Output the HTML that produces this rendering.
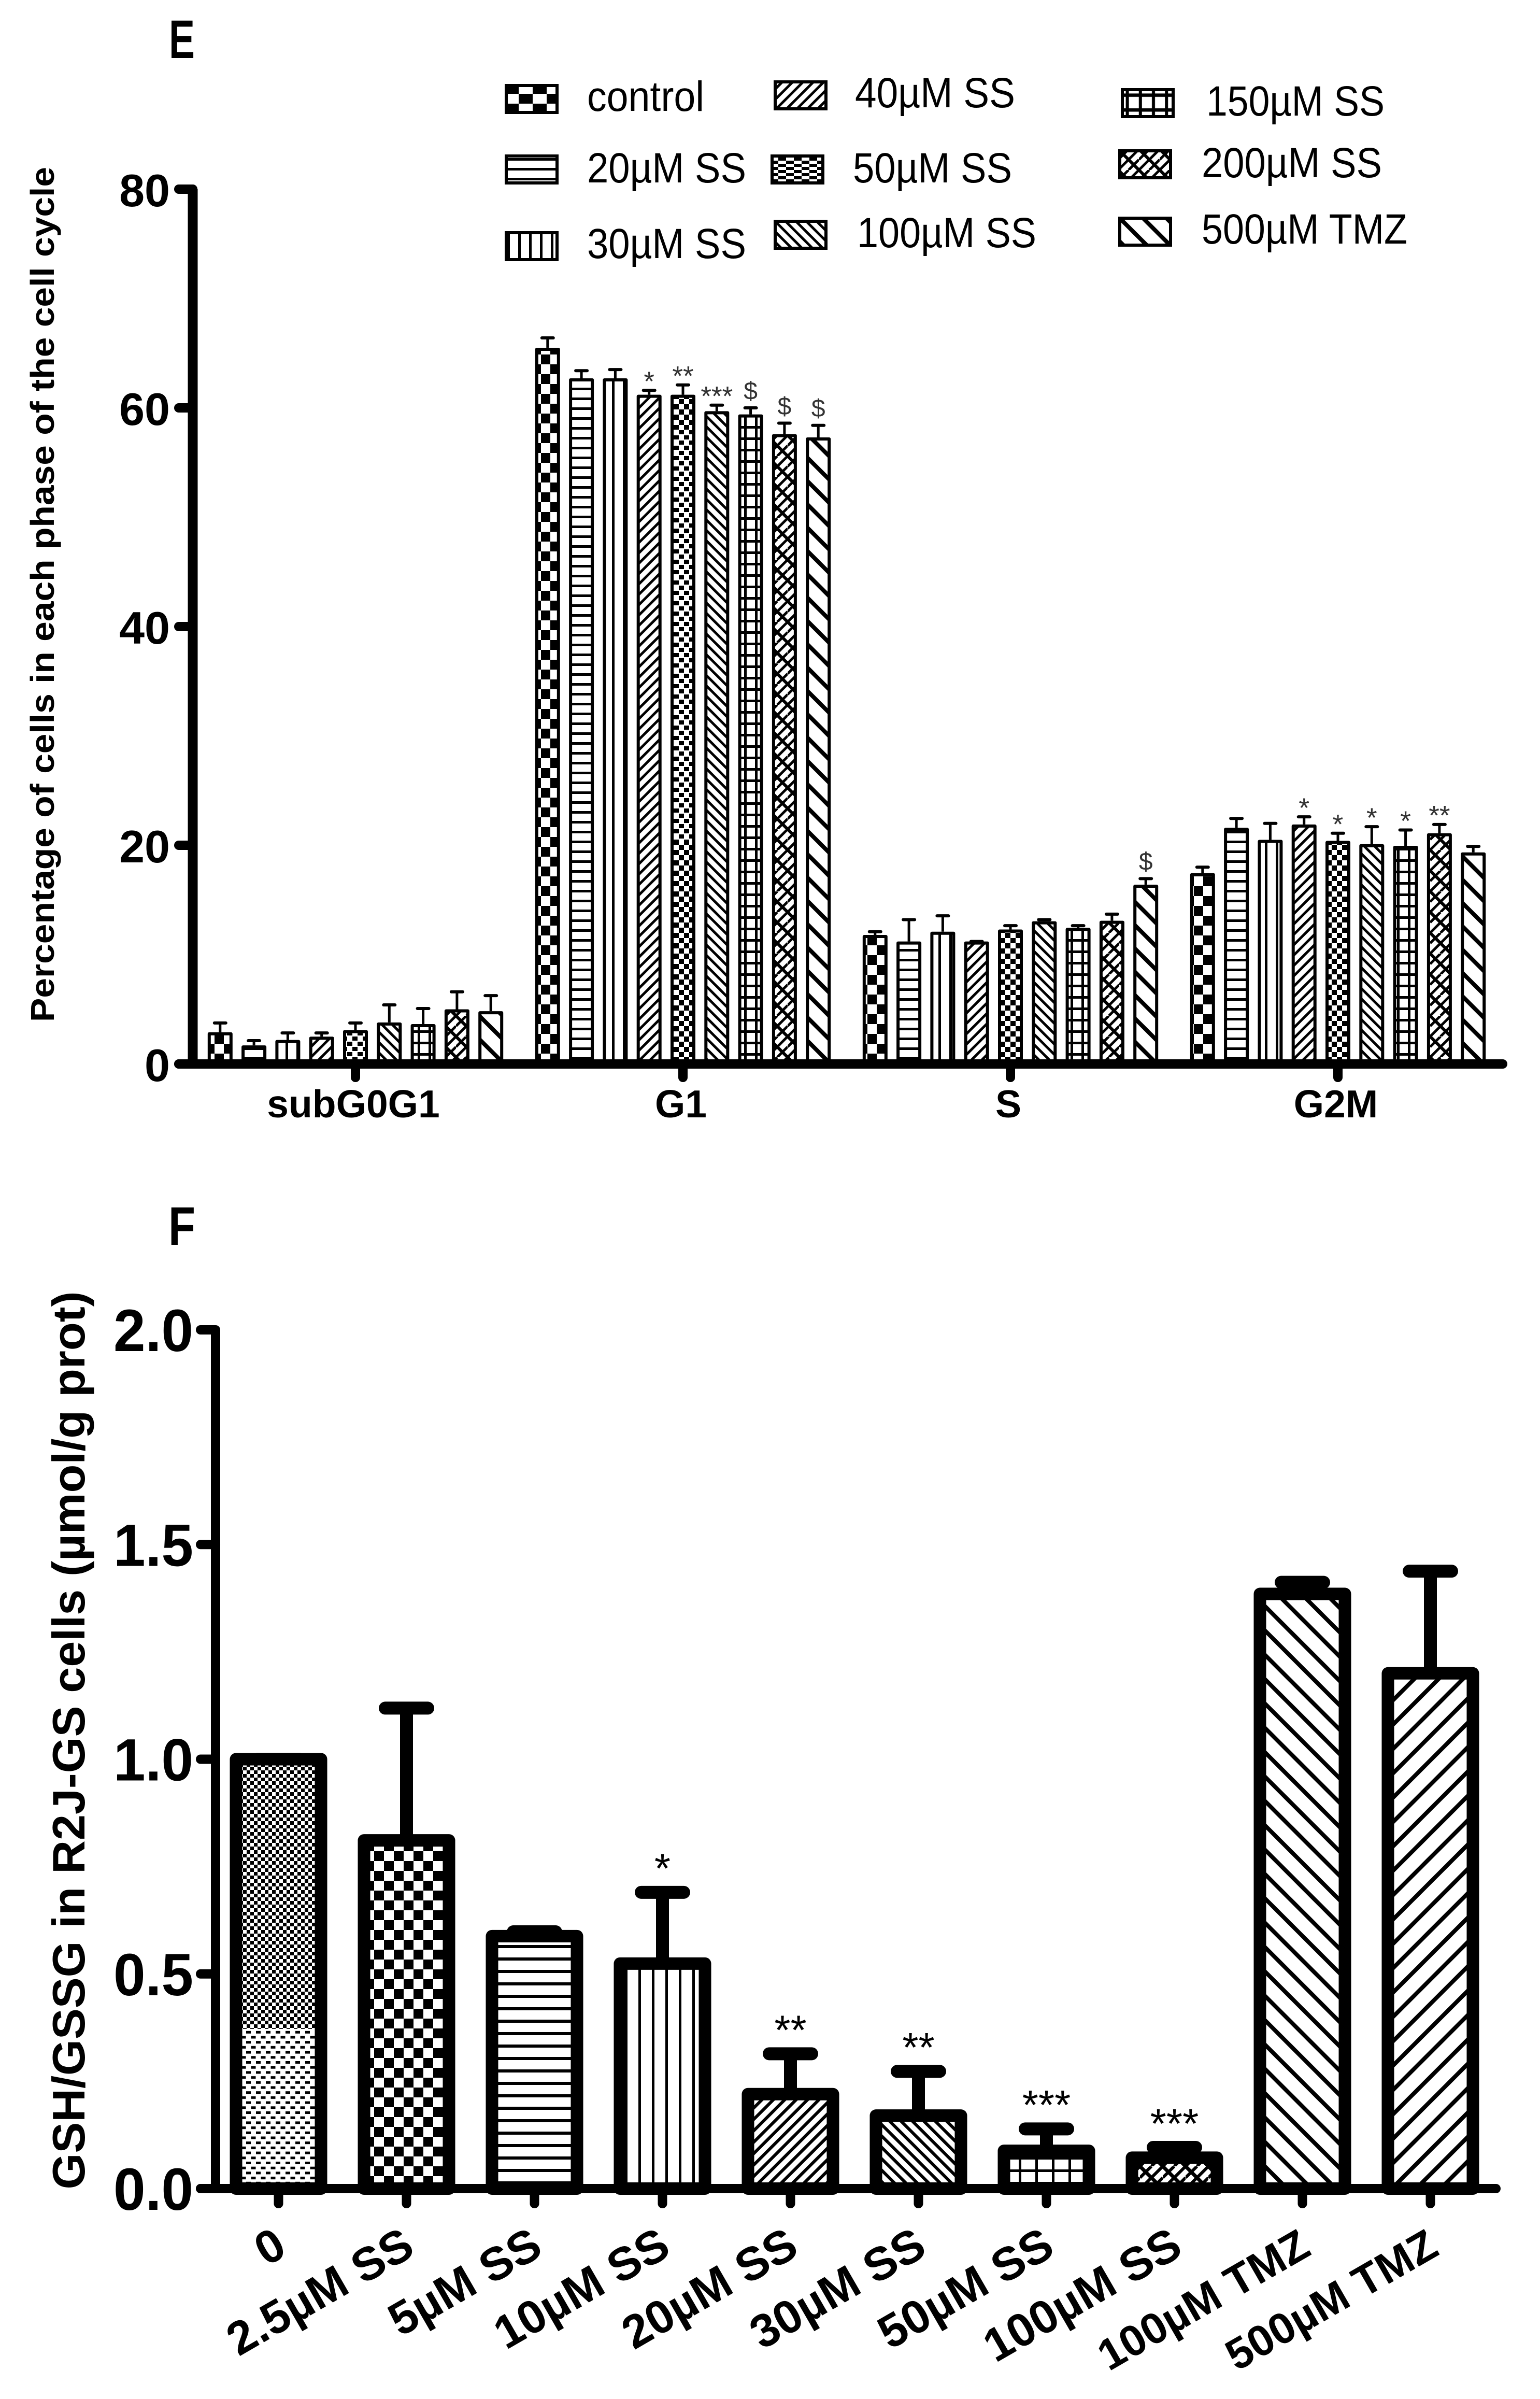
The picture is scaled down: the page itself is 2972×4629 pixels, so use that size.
<!DOCTYPE html>
<html lang="en">
<head>
<meta charset="utf-8">
<title>Cell cycle distribution and GSH/GSSG ratio</title>
<style>
html,body{margin:0;padding:0;background:#fff;width:2972px;height:4629px;overflow:hidden}
svg{display:block}
text{font-family:"Liberation Sans",Arial,sans-serif;fill:#000}
.b{font-weight:bold}
</style>
</head>
<body>
<svg id="root" xmlns="http://www.w3.org/2000/svg" width="2972" height="4629" viewBox="0 0 2972 4629">
<defs>
  <pattern id="e-check" patternUnits="userSpaceOnUse" width="36" height="38"><rect x="0" y="0" width="18" height="19"/><rect x="18" y="19" width="18" height="19"/></pattern>
  <pattern id="e-horiz" patternUnits="userSpaceOnUse" width="19" height="19"><rect y="7" width="19" height="5"/></pattern>
  <pattern id="e-vert" patternUnits="userSpaceOnUse" width="21" height="21" x="5"><rect x="0" width="5" height="21"/></pattern>
  <pattern id="e-fwd" patternUnits="userSpaceOnUse" width="20" height="20"><path d="M-2,2 L2,-2 M0,20 L20,0 M18,22 L22,18" stroke="#000" stroke-width="5"/></pattern>
  <pattern id="e-small" patternUnits="userSpaceOnUse" width="20" height="20"><rect width="10" height="10"/><rect x="10" y="10" width="10" height="10"/></pattern>
  <pattern id="e-dots" patternUnits="userSpaceOnUse" width="20" height="20"><rect width="10" height="8"/><rect x="10" y="10" width="10" height="8"/></pattern>
  <pattern id="e-back" patternUnits="userSpaceOnUse" width="20" height="20"><path d="M-2,-2 L22,22 M-2,18 L2,22 M18,-2 L22,2" stroke="#000" stroke-width="5"/></pattern>
  <pattern id="e-grid" patternUnits="userSpaceOnUse" width="21" height="22"><rect x="8" width="5" height="22"/><rect y="8" width="21" height="5"/></pattern>
  <pattern id="e-weave" patternUnits="userSpaceOnUse" width="40" height="40"><path d="M-4,4 L4,-4 M0,20 L20,0 M0,40 L40,0 M20,40 L40,20 M36,44 L44,36" stroke="#000" stroke-width="5"/><path d="M-4,-4 L44,44 M-4,36 L4,44 M36,-4 L44,4" stroke="#000" stroke-width="6"/></pattern>
  <pattern id="e-wide" patternUnits="userSpaceOnUse" width="45" height="45"><path d="M-5,-5 L50,50 M-5,40 L5,50 M40,-5 L50,5" stroke="#000" stroke-width="8"/></pattern>

  <pattern id="f-fine" patternUnits="userSpaceOnUse" width="14" height="14"><rect width="7" height="7"/><rect x="7" y="7" width="7" height="7"/></pattern>
  <pattern id="f-dots" patternUnits="userSpaceOnUse" width="19" height="19.4"><rect width="9" height="5"/><rect x="9.5" y="9.7" width="9" height="5"/></pattern>
  <pattern id="f-check" patternUnits="userSpaceOnUse" width="38" height="38"><rect width="19" height="19"/><rect x="19" y="19" width="19" height="19"/></pattern>
  <pattern id="f-horiz" patternUnits="userSpaceOnUse" width="24" height="24"><rect y="9" width="24" height="6"/></pattern>
  <pattern id="f-vert" patternUnits="userSpaceOnUse" width="26" height="26"><rect x="10" width="5" height="26"/></pattern>
  <pattern id="f-fwd" patternUnits="userSpaceOnUse" width="22" height="22"><path d="M-2,2 L2,-2 M0,22 L22,0 M20,24 L24,20" stroke="#000" stroke-width="6"/></pattern>
  <pattern id="f-back" patternUnits="userSpaceOnUse" width="22" height="22"><path d="M-2,-2 L24,24 M-2,20 L2,24 M20,-2 L24,2" stroke="#000" stroke-width="6"/></pattern>
  <pattern id="f-grid" patternUnits="userSpaceOnUse" width="32" height="24"><rect x="14" width="5" height="24"/><rect y="10" width="32" height="5"/></pattern>
  <pattern id="f-weave" patternUnits="userSpaceOnUse" width="44" height="44"><path d="M-4,4 L4,-4 M0,22 L22,0 M0,44 L44,0 M22,44 L44,22 M40,48 L48,40" stroke="#000" stroke-width="6"/><path d="M-4,-4 L48,48 M-4,40 L4,48 M40,-4 L48,4" stroke="#000" stroke-width="7"/></pattern>
  <pattern id="f-wideb" patternUnits="userSpaceOnUse" width="47" height="47"><path d="M-5,-5 L52,52 M-5,42 L5,52 M42,-5 L52,5" stroke="#000" stroke-width="8"/></pattern>
  <pattern id="f-widef" patternUnits="userSpaceOnUse" width="47" height="47"><path d="M-5,5 L5,-5 M0,47 L47,0 M42,52 L52,42" stroke="#000" stroke-width="8"/></pattern>
</defs>

<rect width="2972" height="4629" fill="#fff"/>

<text class="b" x="326" y="112" font-size="105" textLength="50" lengthAdjust="spacingAndGlyphs">E</text>
<text class="b" x="325" y="2402" font-size="105" textLength="52" lengthAdjust="spacingAndGlyphs">F</text>

<text class="b" transform="translate(104,1147) rotate(-90)" text-anchor="middle" font-size="64" textLength="1650" lengthAdjust="spacingAndGlyphs">Percentage of cells in each phase of the cell cycle</text>
<text class="b" transform="translate(163,3358) rotate(-90)" text-anchor="middle" font-size="88" textLength="1733" lengthAdjust="spacingAndGlyphs">GSH/GSSG in R2J-GS cells (µmol/g prot)</text>

<g id="legend" font-size="82"></g>
<g id="chartE"></g>
<g id="chartF"></g>
</svg>

<script>
// ---------- Panel E data ----------
const phaseLabels = ['subG0G1', 'G1', 'S', 'G2M'];
const doseLabels = ['control', '20µM SS', '30µM SS', '40µM SS', '50µM SS', '100µM SS', '150µM SS', '200µM SS', '500µM TMZ'];
const subG0G1Values = [2.9, 1.7, 2.2, 2.5, 3.1, 3.8, 3.65, 5.0, 4.83];
const subG0G1Errors = [0.85, 0.43, 0.64, 0.34, 0.65, 1.6, 1.42, 1.6, 1.42];
const g1Values = [65.5, 62.7, 62.7, 61.2, 61.2, 59.7, 59.4, 57.6, 57.3];
const g1Errors = [0.9, 0.7, 0.8, 0.4, 0.9, 0.55, 0.6, 1.0, 1.1];
const sValues = [11.8, 11.2, 12.1, 11.2, 12.3, 13.05, 12.45, 13.1, 16.4];
const sErrors = [0.3, 2.0, 1.45, 0, 0.35, 0.15, 0.2, 0.6, 0.55];
const g2mValues = [17.45, 21.6, 20.5, 21.9, 20.4, 20.1, 19.95, 21.1, 19.35];
const g2mErrors = [0.55, 0.85, 1.5, 0.7, 0.7, 1.6, 1.45, 0.8, 0.55];
const subG0G1Marks = ['', '', '', '', '', '', '', '', ''];
const g1Marks = ['', '', '', '*', '**', '***', '$', '$', '$'];
const sMarks = ['', '', '', '', '', '', '', '', '$'];
const g2mMarks = ['', '', '', '*', '*', '*', '*', '**', ''];
const yTicksE = [0, 20, 40, 60, 80];

// ---------- Panel F data ----------
const treatmentLabels = ['0', '2.5µM SS', '5µM SS', '10µM SS', '20µM SS', '30µM SS', '50µM SS', '100µM SS', '100µM TMZ', '500µM TMZ'];
const ratioValues = [1.0, 0.811, 0.588, 0.524, 0.22, 0.17, 0.088, 0.072, 1.385, 1.2];
const ratioErrors = [0, 0.308, 0.01, 0.166, 0.094, 0.103, 0.051, 0.024, 0.027, 0.238];
const ratioMarks = ['', '', '', '*', '**', '**', '***', '***', '', ''];
const yTicksF = ['0.0', '0.5', '1.0', '1.5', '2.0'];

const NS = 'http://www.w3.org/2000/svg';
function mk(parent, tag, attrs, txt) {
  const el = document.createElementNS(NS, tag);
  for (const k in attrs) el.setAttribute(k, attrs[k]);
  if (txt !== undefined) el.textContent = txt;
  parent.appendChild(el);
  return el;
}

// ---------- Panel E axes ----------
const chartE = document.getElementById('chartE');
const yE = v => 2053 - v * 21.1;
const tickE = g => 686 + 632 * g;
const xE = (g, i) => tickE(g) + (i - 4) * 65.3;
const patE = ['e-check', 'e-horiz', 'e-vert', 'e-fwd', 'e-small', 'e-back', 'e-grid', 'e-weave', 'e-wide'];
const groupValues = [subG0G1Values, g1Values, sValues, g2mValues];
const groupErrors = [subG0G1Errors, g1Errors, sErrors, g2mErrors];
const groupMarks = [subG0G1Marks, g1Marks, sMarks, g2mMarks];
const dotBandLow = [0, 20.4, null, null];
const dotBandHigh = [12, 58, null, null];

groupValues.forEach((vals, g) => {
  vals.forEach((v, i) => {
    const xc = xE(g, i), top = yE(v), base = yE(0), err = groupErrors[g][i];
    const stem = mk(chartE, 'line', {x1: xc, x2: xc, y1: top, y2: yE(v + err), stroke: '#000', 'stroke-width': 5});
    
    
    const cap = mk(chartE, 'line', {x1: xc - 11, x2: xc + 11, y1: yE(v + err), y2: yE(v + err), stroke: '#000', 'stroke-width': 6, 'stroke-linecap': 'round'});
    
    
    const bar = mk(chartE, 'rect', {x: xc - 21, y: top + 3, width: 42, height: base - top - 3, fill: '#fff', stroke: 'none'});
    
    
    const fill = mk(chartE, 'rect', {x: xc - 21, y: top + 3, width: 42, height: base - top - 3, fill: 'url(#' + patE[i] + ')', stroke: '#000', 'stroke-width': 6, 'stroke-linejoin': 'round'});
    
    
    if (i === 4 && dotBandLow[g] !== null) {
      const yA = Math.max(yE(dotBandHigh[g]), top + 6), yB = yE(dotBandLow[g]);
      if (yB > yA) {
        const band = mk(chartE, 'rect', {x: xc - 18, y: yA, width: 36, height: yB - yA, fill: '#fff'});
        
        
        const dots = mk(chartE, 'rect', {x: xc - 18, y: yA, width: 36, height: yB - yA, fill: 'url(#e-dots)'});
        
        
      }
    }
    const m = groupMarks[g][i];
    if (m) {
      const isDollar = m === '$';
      const fs = isDollar ? 48 : 53;
      const cy = yE(v + err) - (isDollar ? 34 : 30);
      const t = mk(chartE, 'text', {x: xc, y: cy + (isDollar ? 0.36 : 0.58) * fs, 'text-anchor': 'middle', 'font-size': fs, style: 'fill:#333'}, m);
      
      
    }
  });
});

yTicksE.forEach(v => {
  const tick = mk(chartE, 'line', {x1: 345, x2: 372, y1: yE(v), y2: yE(v), stroke: '#000', 'stroke-width': 18, 'stroke-linecap': 'round'});
  
  
  const lab = mk(chartE, 'text', {x: 328, y: yE(v) + 33, 'text-anchor': 'end', 'font-size': 88, class: 'b'}, v);
  
  
});
const axisYE = mk(chartE, 'line', {x1: 372, x2: 372, y1: yE(80), y2: yE(0), stroke: '#000', 'stroke-width': 19});


const axisXE = mk(chartE, 'line', {x1: 345, x2: 2900, y1: yE(0), y2: yE(0), stroke: '#000', 'stroke-width': 18, 'stroke-linecap': 'round'});


phaseLabels.forEach((p, g) => {
  const tick = mk(chartE, 'line', {x1: tickE(g), x2: tickE(g), y1: yE(0), y2: 2079, stroke: '#000', 'stroke-width': 18, 'stroke-linecap': 'round'});
  
  
  const lab = mk(chartE, 'text', {x: tickE(g) - 4, y: 2156, 'text-anchor': 'middle', 'font-size': 75, class: 'b'}, p);
  
  
});

// ---------- Legend ----------
const legend = document.getElementById('legend');
const legendOrder = [0, 1, 2, 3, 4, 5, 6, 7, 8];
const swX = [974, 974, 974, 1493, 1487, 1493, 2163, 2158, 2158];
const swY = [162, 298, 446, 155, 298, 424, 170, 288, 418];
const swScaleX = [1.5, 1, 1, 1, 1.5, 1, 1.2, 1, 1];
const swScaleY = [1, 1, 1, 1, 0.6, 1, 1.3, 1, 1];
const txX = [1133, 1133, 1133, 1650, 1646, 1654, 2328, 2319, 2319];
const txY = [214, 352, 498, 207, 352, 477, 223, 342, 470];
const txW = [226, 307, 307, 309, 307, 346, 344, 348, 397];
legendOrder.forEach(i => {
  const g = mk(legend, 'g', {transform: 'translate(' + swX[i] + ',' + swY[i] + ')'});
  
  
  const inner = mk(g, 'g', {transform: 'scale(' + swScaleX[i] + ',' + swScaleY[i] + ')'});
  
  
  const f = mk(inner, 'rect', {x: 0, y: 0, width: 104 / swScaleX[i], height: 58 / swScaleY[i], fill: 'url(#' + patE[i] + ')'});
  
  
  const b = mk(g, 'rect', {x: 3, y: 3, width: 98, height: 52, fill: 'none', stroke: '#000', 'stroke-width': 6});
  
  
  const t = mk(legend, 'text', {x: txX[i], y: txY[i], textLength: txW[i], lengthAdjust: 'spacingAndGlyphs'}, doseLabels[i]);
  
  
});

// ---------- Panel F ----------
const chartF = document.getElementById('chartF');
const yF = v => 4223 - v * 828.5;
const xF = i => 537.5 + 247 * i;
const patF = ['f-fine', 'f-check', 'f-horiz', 'f-vert', 'f-fwd', 'f-back', 'f-grid', 'f-weave', 'f-wideb', 'f-widef'];
const firstBarDotsTop = 0.372;

ratioValues.forEach((v, i) => {
  const xc = xF(i), top = yF(v), base = yF(0), err = ratioErrors[i];
  const stem = mk(chartF, 'line', {x1: xc, x2: xc, y1: top, y2: yF(v + err), stroke: '#000', 'stroke-width': 25});
  
  
  const cap = mk(chartF, 'line', {x1: xc - 41, x2: xc + 41, y1: yF(v + err), y2: yF(v + err), stroke: '#000', 'stroke-width': 25, 'stroke-linecap': 'round'});
  
  
  const bg = mk(chartF, 'rect', {x: xc - 82, y: top, width: 164, height: base - top, fill: '#fff'});
  
  
  const bar = mk(chartF, 'rect', {x: xc - 82, y: top, width: 164, height: base - top, fill: 'url(#' + patF[i] + ')'});
  
  
  if (i === 0) {
    const yA = Math.max(yF(firstBarDotsTop), top);
    const mask = mk(chartF, 'rect', {x: xc - 82, y: yA, width: 164, height: base - yA, fill: '#fff'});
    
    
    const dots = mk(chartF, 'rect', {x: xc - 82, y: yA, width: 164, height: base - yA, fill: 'url(#f-dots)'});
    
    
  }
  const outline = mk(chartF, 'rect', {x: xc - 82, y: top, width: 164, height: base - top, fill: 'none', stroke: '#000', 'stroke-width': 24, 'stroke-linejoin': 'round'});
  
  
  if (ratioMarks[i]) {
    const fs = 80;
    const t = mk(chartF, 'text', {x: xc, y: yF(v + err) - 65 + 0.58 * fs, 'text-anchor': 'middle', 'font-size': fs}, ratioMarks[i]);
    
    
  }
});

yTicksF.forEach(s => {
  const v = parseFloat(s);
  const tick = mk(chartF, 'line', {x1: 387, x2: 416, y1: yF(v), y2: yF(v), stroke: '#000', 'stroke-width': 18, 'stroke-linecap': 'round'});
  
  
  const lab = mk(chartF, 'text', {x: 373, y: yF(v) + 41, 'text-anchor': 'end', 'font-size': 115, class: 'b', textLength: 154, lengthAdjust: 'spacingAndGlyphs'}, s);
  
  
});
const axisYF = mk(chartF, 'line', {x1: 416, x2: 416, y1: yF(2), y2: yF(0), stroke: '#000', 'stroke-width': 18});


const axisXF = mk(chartF, 'line', {x1: 387, x2: 2887, y1: yF(0), y2: yF(0), stroke: '#000', 'stroke-width': 18, 'stroke-linecap': 'round'});


treatmentLabels.forEach((s, i) => {
  const tick = mk(chartF, 'line', {x1: xF(i), x2: xF(i), y1: yF(0), y2: 4252, stroke: '#000', 'stroke-width': 18, 'stroke-linecap': 'round'});
  
  
  const lab = mk(chartF, 'text', {transform: 'translate(' + (xF(i) + 20) + ',4349) rotate(-30)', 'text-anchor': 'end', 'font-size': s.endsWith('TMZ') ? 84 : 90, class: 'b'}, s);
  
  
});
</script>
</body>
</html>
